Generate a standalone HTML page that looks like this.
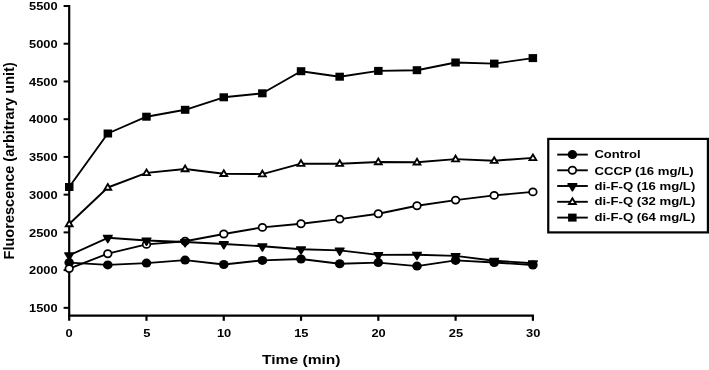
<!DOCTYPE html><html><head><meta charset="utf-8"><title>Fluorescence chart</title><style>html,body{margin:0;padding:0;background:#fff}svg{display:block}text{font-family:"Liberation Sans",Arial,sans-serif;font-weight:bold;fill:#000}</style></head><body>
<svg width="709" height="370" viewBox="0 0 709 370">
<rect width="709" height="370" fill="#fff"/>
<g stroke="#000" stroke-width="2.2" fill="none">
<line x1="69.2" y1="4.95" x2="69.2" y2="320.8"/>
<line x1="68.1" y1="315.6" x2="534" y2="315.6"/>
<line x1="63.6" y1="6.00" x2="69.2" y2="6.00" stroke-width="2"/>
<line x1="63.6" y1="43.73" x2="69.2" y2="43.73" stroke-width="2"/>
<line x1="63.6" y1="81.46" x2="69.2" y2="81.46" stroke-width="2"/>
<line x1="63.6" y1="119.19" x2="69.2" y2="119.19" stroke-width="2"/>
<line x1="63.6" y1="156.92" x2="69.2" y2="156.92" stroke-width="2"/>
<line x1="63.6" y1="194.65" x2="69.2" y2="194.65" stroke-width="2"/>
<line x1="63.6" y1="232.38" x2="69.2" y2="232.38" stroke-width="2"/>
<line x1="63.6" y1="270.11" x2="69.2" y2="270.11" stroke-width="2"/>
<line x1="63.6" y1="307.84" x2="69.2" y2="307.84" stroke-width="2"/>
<line x1="146.48" y1="315.6" x2="146.48" y2="320.8"/>
<line x1="223.76" y1="315.6" x2="223.76" y2="320.8"/>
<line x1="301.04" y1="315.6" x2="301.04" y2="320.8"/>
<line x1="378.32" y1="315.6" x2="378.32" y2="320.8"/>
<line x1="455.60" y1="315.6" x2="455.60" y2="320.8"/>
<line x1="532.88" y1="315.6" x2="532.88" y2="320.8"/>
</g>
<text x="57.6" y="10.20" font-size="11.6" text-anchor="end" textLength="28.6" lengthAdjust="spacingAndGlyphs">5500</text>
<text x="57.6" y="47.93" font-size="11.6" text-anchor="end" textLength="28.6" lengthAdjust="spacingAndGlyphs">5000</text>
<text x="57.6" y="85.66" font-size="11.6" text-anchor="end" textLength="28.6" lengthAdjust="spacingAndGlyphs">4500</text>
<text x="57.6" y="123.39" font-size="11.6" text-anchor="end" textLength="28.6" lengthAdjust="spacingAndGlyphs">4000</text>
<text x="57.6" y="161.12" font-size="11.6" text-anchor="end" textLength="28.6" lengthAdjust="spacingAndGlyphs">3500</text>
<text x="57.6" y="198.85" font-size="11.6" text-anchor="end" textLength="28.6" lengthAdjust="spacingAndGlyphs">3000</text>
<text x="57.6" y="236.58" font-size="11.6" text-anchor="end" textLength="28.6" lengthAdjust="spacingAndGlyphs">2500</text>
<text x="57.6" y="274.31" font-size="11.6" text-anchor="end" textLength="28.6" lengthAdjust="spacingAndGlyphs">2000</text>
<text x="57.6" y="312.04" font-size="11.6" text-anchor="end" textLength="28.6" lengthAdjust="spacingAndGlyphs">1500</text>
<text x="69.00" y="337.4" font-size="11.5" text-anchor="middle" textLength="7.2" lengthAdjust="spacingAndGlyphs">0</text>
<text x="146.78" y="337.4" font-size="11.5" text-anchor="middle" textLength="7.2" lengthAdjust="spacingAndGlyphs">5</text>
<text x="224.06" y="337.4" font-size="11.5" text-anchor="middle" textLength="14.3" lengthAdjust="spacingAndGlyphs">10</text>
<text x="301.34" y="337.4" font-size="11.5" text-anchor="middle" textLength="14.3" lengthAdjust="spacingAndGlyphs">15</text>
<text x="378.62" y="337.4" font-size="11.5" text-anchor="middle" textLength="14.3" lengthAdjust="spacingAndGlyphs">20</text>
<text x="455.90" y="337.4" font-size="11.5" text-anchor="middle" textLength="14.3" lengthAdjust="spacingAndGlyphs">25</text>
<text x="533.18" y="337.4" font-size="11.5" text-anchor="middle" textLength="14.3" lengthAdjust="spacingAndGlyphs">30</text>
<text x="301.3" y="364.25" font-size="13.7" text-anchor="middle" textLength="78.5" lengthAdjust="spacingAndGlyphs">Time (min)</text>
<text transform="translate(13.8,160.85) rotate(-90)" font-size="14.9" text-anchor="middle" textLength="197.2" lengthAdjust="spacingAndGlyphs">Fluorescence (arbitrary unit)</text>
<polyline fill="none" stroke="#000" stroke-width="1.9" stroke-linejoin="round" points="69.2,262.6 107.8,264.9 146.5,263.1 185.1,260.1 223.8,264.5 262.4,260.4 301.0,259.0 339.7,263.8 378.3,262.6 417.0,266.1 455.6,260.4 494.2,262.5 532.9,265.0"/>
<ellipse cx="69.2" cy="262.6" rx="4.8" ry="4.5" fill="#000"/>
<ellipse cx="107.8" cy="264.9" rx="4.8" ry="4.5" fill="#000"/>
<ellipse cx="146.5" cy="263.1" rx="4.8" ry="4.5" fill="#000"/>
<ellipse cx="185.1" cy="260.1" rx="4.8" ry="4.5" fill="#000"/>
<ellipse cx="223.8" cy="264.5" rx="4.8" ry="4.5" fill="#000"/>
<ellipse cx="262.4" cy="260.4" rx="4.8" ry="4.5" fill="#000"/>
<ellipse cx="301.0" cy="259.0" rx="4.8" ry="4.5" fill="#000"/>
<ellipse cx="339.7" cy="263.8" rx="4.8" ry="4.5" fill="#000"/>
<ellipse cx="378.3" cy="262.6" rx="4.8" ry="4.5" fill="#000"/>
<ellipse cx="417.0" cy="266.1" rx="4.8" ry="4.5" fill="#000"/>
<ellipse cx="455.6" cy="260.4" rx="4.8" ry="4.5" fill="#000"/>
<ellipse cx="494.2" cy="262.5" rx="4.8" ry="4.5" fill="#000"/>
<ellipse cx="532.9" cy="265.0" rx="4.8" ry="4.5" fill="#000"/>
<polyline fill="none" stroke="#000" stroke-width="1.9" stroke-linejoin="round" points="69.2,268.6 107.8,253.7 146.5,244.4 185.1,241.2 223.8,234.0 262.4,227.4 301.0,223.8 339.7,219.1 378.3,213.8 417.0,205.7 455.6,200.1 494.2,195.4 532.9,191.9"/>
<ellipse cx="69.2" cy="268.6" rx="3.8" ry="3.6" fill="#fff" stroke="#000" stroke-width="1.75"/>
<ellipse cx="107.8" cy="253.7" rx="3.8" ry="3.6" fill="#fff" stroke="#000" stroke-width="1.75"/>
<ellipse cx="146.5" cy="244.4" rx="3.8" ry="3.6" fill="#fff" stroke="#000" stroke-width="1.75"/>
<ellipse cx="185.1" cy="241.2" rx="3.8" ry="3.6" fill="#fff" stroke="#000" stroke-width="1.75"/>
<ellipse cx="223.8" cy="234.0" rx="3.8" ry="3.6" fill="#fff" stroke="#000" stroke-width="1.75"/>
<ellipse cx="262.4" cy="227.4" rx="3.8" ry="3.6" fill="#fff" stroke="#000" stroke-width="1.75"/>
<ellipse cx="301.0" cy="223.8" rx="3.8" ry="3.6" fill="#fff" stroke="#000" stroke-width="1.75"/>
<ellipse cx="339.7" cy="219.1" rx="3.8" ry="3.6" fill="#fff" stroke="#000" stroke-width="1.75"/>
<ellipse cx="378.3" cy="213.8" rx="3.8" ry="3.6" fill="#fff" stroke="#000" stroke-width="1.75"/>
<ellipse cx="417.0" cy="205.7" rx="3.8" ry="3.6" fill="#fff" stroke="#000" stroke-width="1.75"/>
<ellipse cx="455.6" cy="200.1" rx="3.8" ry="3.6" fill="#fff" stroke="#000" stroke-width="1.75"/>
<ellipse cx="494.2" cy="195.4" rx="3.8" ry="3.6" fill="#fff" stroke="#000" stroke-width="1.75"/>
<ellipse cx="532.9" cy="191.9" rx="3.8" ry="3.6" fill="#fff" stroke="#000" stroke-width="1.75"/>
<polyline fill="none" stroke="#000" stroke-width="1.9" stroke-linejoin="round" points="69.2,255.3 107.8,237.8 146.5,240.5 185.1,242.0 223.8,244.0 262.4,246.2 301.0,249.3 339.7,250.4 378.3,254.9 417.0,254.7 455.6,255.9 494.2,260.8 532.9,263.2"/>
<polygon transform="translate(69.2,255.3)" points="-4.9,-2.95 4.9,-2.95 4.9,-1.8 0.5,5.5 -0.5,5.5 -4.9,-1.8" fill="#000"/>
<polygon transform="translate(107.8,237.8)" points="-4.9,-2.95 4.9,-2.95 4.9,-1.8 0.5,5.5 -0.5,5.5 -4.9,-1.8" fill="#000"/>
<polygon transform="translate(146.5,240.5)" points="-4.9,-2.95 4.9,-2.95 4.9,-1.8 0.5,5.5 -0.5,5.5 -4.9,-1.8" fill="#000"/>
<polygon transform="translate(185.1,242.0)" points="-4.9,-2.95 4.9,-2.95 4.9,-1.8 0.5,5.5 -0.5,5.5 -4.9,-1.8" fill="#000"/>
<polygon transform="translate(223.8,244.0)" points="-4.9,-2.95 4.9,-2.95 4.9,-1.8 0.5,5.5 -0.5,5.5 -4.9,-1.8" fill="#000"/>
<polygon transform="translate(262.4,246.2)" points="-4.9,-2.95 4.9,-2.95 4.9,-1.8 0.5,5.5 -0.5,5.5 -4.9,-1.8" fill="#000"/>
<polygon transform="translate(301.0,249.3)" points="-4.9,-2.95 4.9,-2.95 4.9,-1.8 0.5,5.5 -0.5,5.5 -4.9,-1.8" fill="#000"/>
<polygon transform="translate(339.7,250.4)" points="-4.9,-2.95 4.9,-2.95 4.9,-1.8 0.5,5.5 -0.5,5.5 -4.9,-1.8" fill="#000"/>
<polygon transform="translate(378.3,254.9)" points="-4.9,-2.95 4.9,-2.95 4.9,-1.8 0.5,5.5 -0.5,5.5 -4.9,-1.8" fill="#000"/>
<polygon transform="translate(417.0,254.7)" points="-4.9,-2.95 4.9,-2.95 4.9,-1.8 0.5,5.5 -0.5,5.5 -4.9,-1.8" fill="#000"/>
<polygon transform="translate(455.6,255.9)" points="-4.9,-2.95 4.9,-2.95 4.9,-1.8 0.5,5.5 -0.5,5.5 -4.9,-1.8" fill="#000"/>
<polygon transform="translate(494.2,260.8)" points="-4.9,-2.95 4.9,-2.95 4.9,-1.8 0.5,5.5 -0.5,5.5 -4.9,-1.8" fill="#000"/>
<polygon transform="translate(532.9,263.2)" points="-4.9,-2.95 4.9,-2.95 4.9,-1.8 0.5,5.5 -0.5,5.5 -4.9,-1.8" fill="#000"/>
<polyline fill="none" stroke="#000" stroke-width="1.9" stroke-linejoin="round" points="69.2,224.0 107.8,187.5 146.5,172.9 185.1,169.0 223.8,173.8 262.4,174.1 301.0,163.6 339.7,163.7 378.3,162.0 417.0,162.3 455.6,159.1 494.2,160.7 532.9,157.9"/>
<polygon transform="translate(69.2,224.0)" points="0,-3.45 3.4,2.2 -3.4,2.2" fill="#fff" stroke="#000" stroke-width="1.85"/>
<polygon transform="translate(107.8,187.5)" points="0,-3.45 3.4,2.2 -3.4,2.2" fill="#fff" stroke="#000" stroke-width="1.85"/>
<polygon transform="translate(146.5,172.9)" points="0,-3.45 3.4,2.2 -3.4,2.2" fill="#fff" stroke="#000" stroke-width="1.85"/>
<polygon transform="translate(185.1,169.0)" points="0,-3.45 3.4,2.2 -3.4,2.2" fill="#fff" stroke="#000" stroke-width="1.85"/>
<polygon transform="translate(223.8,173.8)" points="0,-3.45 3.4,2.2 -3.4,2.2" fill="#fff" stroke="#000" stroke-width="1.85"/>
<polygon transform="translate(262.4,174.1)" points="0,-3.45 3.4,2.2 -3.4,2.2" fill="#fff" stroke="#000" stroke-width="1.85"/>
<polygon transform="translate(301.0,163.6)" points="0,-3.45 3.4,2.2 -3.4,2.2" fill="#fff" stroke="#000" stroke-width="1.85"/>
<polygon transform="translate(339.7,163.7)" points="0,-3.45 3.4,2.2 -3.4,2.2" fill="#fff" stroke="#000" stroke-width="1.85"/>
<polygon transform="translate(378.3,162.0)" points="0,-3.45 3.4,2.2 -3.4,2.2" fill="#fff" stroke="#000" stroke-width="1.85"/>
<polygon transform="translate(417.0,162.3)" points="0,-3.45 3.4,2.2 -3.4,2.2" fill="#fff" stroke="#000" stroke-width="1.85"/>
<polygon transform="translate(455.6,159.1)" points="0,-3.45 3.4,2.2 -3.4,2.2" fill="#fff" stroke="#000" stroke-width="1.85"/>
<polygon transform="translate(494.2,160.7)" points="0,-3.45 3.4,2.2 -3.4,2.2" fill="#fff" stroke="#000" stroke-width="1.85"/>
<polygon transform="translate(532.9,157.9)" points="0,-3.45 3.4,2.2 -3.4,2.2" fill="#fff" stroke="#000" stroke-width="1.85"/>
<polyline fill="none" stroke="#000" stroke-width="1.9" stroke-linejoin="round" points="69.2,187.0 107.8,133.5 146.5,116.7 185.1,109.8 223.8,97.3 262.4,93.3 301.0,71.2 339.7,76.7 378.3,70.9 417.0,70.2 455.6,62.5 494.2,63.6 532.9,58.1"/>
<rect x="65.0" y="183.0" width="8.5" height="8" fill="#000"/>
<rect x="103.6" y="129.5" width="8.5" height="8" fill="#000"/>
<rect x="142.2" y="112.7" width="8.5" height="8" fill="#000"/>
<rect x="180.9" y="105.8" width="8.5" height="8" fill="#000"/>
<rect x="219.5" y="93.3" width="8.5" height="8" fill="#000"/>
<rect x="258.1" y="89.3" width="8.5" height="8" fill="#000"/>
<rect x="296.8" y="67.2" width="8.5" height="8" fill="#000"/>
<rect x="335.4" y="72.7" width="8.5" height="8" fill="#000"/>
<rect x="374.1" y="66.9" width="8.5" height="8" fill="#000"/>
<rect x="412.7" y="66.2" width="8.5" height="8" fill="#000"/>
<rect x="451.3" y="58.5" width="8.5" height="8" fill="#000"/>
<rect x="490.0" y="59.6" width="8.5" height="8" fill="#000"/>
<rect x="528.6" y="54.1" width="8.5" height="8" fill="#000"/>
<rect x="548.25" y="138.9" width="159.65" height="93.5" fill="#fff" stroke="#000" stroke-width="2.2"/>
<line x1="557.2" y1="154.60" x2="587.8" y2="154.60" stroke="#000" stroke-width="1.9"/>
<ellipse cx="572.4" cy="154.6" rx="4.8" ry="4.5" fill="#000"/>
<text x="594.4" y="158.35" font-size="11.5" textLength="46.3" lengthAdjust="spacingAndGlyphs">Control</text>
<line x1="557.2" y1="170.30" x2="587.8" y2="170.30" stroke="#000" stroke-width="1.9"/>
<ellipse cx="572.4" cy="170.3" rx="3.8" ry="3.6" fill="#fff" stroke="#000" stroke-width="1.75"/>
<text x="594.4" y="174.75" font-size="11.5" textLength="99.2" lengthAdjust="spacingAndGlyphs">CCCP (16 mg/L)</text>
<line x1="557.2" y1="186.00" x2="587.8" y2="186.00" stroke="#000" stroke-width="1.9"/>
<polygon transform="translate(572.4,186.0)" points="-4.9,-2.95 4.9,-2.95 4.9,-1.8 0.5,5.5 -0.5,5.5 -4.9,-1.8" fill="#000"/>
<text x="594.4" y="189.55" font-size="11.5" textLength="100.9" lengthAdjust="spacingAndGlyphs">di-F-Q (16 mg/L)</text>
<line x1="557.2" y1="201.80" x2="587.8" y2="201.80" stroke="#000" stroke-width="1.9"/>
<polygon transform="translate(572.4,201.8)" points="0,-3.45 3.4,2.2 -3.4,2.2" fill="#fff" stroke="#000" stroke-width="1.85"/>
<text x="594.4" y="205.15" font-size="11.5" textLength="100.9" lengthAdjust="spacingAndGlyphs">di-F-Q (32 mg/L)</text>
<line x1="557.2" y1="217.60" x2="587.8" y2="217.60" stroke="#000" stroke-width="1.9"/>
<rect x="568.1" y="213.6" width="8.5" height="8" fill="#000"/>
<text x="594.4" y="220.75" font-size="11.5" textLength="100.9" lengthAdjust="spacingAndGlyphs">di-F-Q (64 mg/L)</text>
</svg></body></html>
